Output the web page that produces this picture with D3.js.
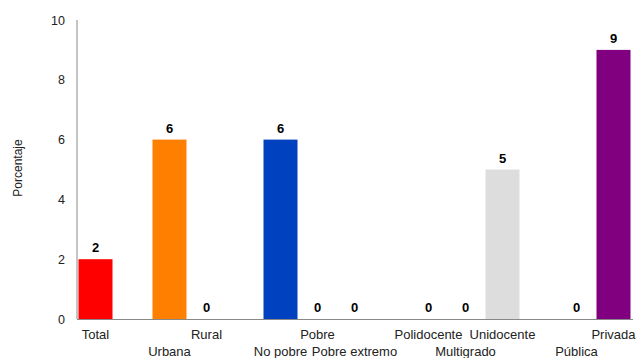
<!DOCTYPE html>
<html><head><meta charset="utf-8">
<script src="https://cdn.jsdelivr.net/npm/d3@7"></script>
<style>body{margin:0;background:#fff}svg{display:block}text{font-family:"Liberation Sans",Arial,sans-serif}</style>
</head><body>
<svg id="c" width="636" height="358"></svg>
<script>
// slots (15) with blank separators
const slots = ["Total","s1","Urbana","Rural","s4","No pobre","Pobre","Pobre extremo","s8","Polidocente","Multigrado","Unidocente","s12","Pública","Privada"];
const categories = ["Total","Urbana","Rural","No pobre","Pobre","Pobre extremo","Polidocente","Multigrado","Unidocente","Pública","Privada"];
const values = [2,6,0,6,0,0,0,0,5,0,9];
const colors = ["#FF0000","#FF8000","#FF8000","#0041BF","#0041BF","#0041BF","#DDDDDD","#DDDDDD","#DDDDDD","#800080","#800080"];
const yTicks = [0,2,4,6,8,10];
const yTitle = "Porcentaje";

const svg = d3.select("#c");
const x = d3.scaleBand().domain(slots).range([77,632]).paddingInner(0.08).paddingOuter(0.04);
const y = d3.scaleLinear().domain([0,10]).range([319,20]);

// axes lines
svg.append("line").attr("x1",77).attr("x2",77).attr("y1",y(10)).attr("y2",y(0)).attr("stroke","#888").attr("stroke-width",1);
svg.append("line").attr("x1",77).attr("x2",633).attr("y1",y(0)+0.5).attr("y2",y(0)+0.5).attr("stroke","#888").attr("stroke-width",1);

svg.append("g").selectAll("text").data(yTicks).join("text")
  .attr("x",65).attr("y",d=>y(d)+4.5).attr("text-anchor","end")
  .attr("font-size",12.5).attr("fill","#222").text(d=>d);

svg.append("text").attr("transform","translate(22,168) rotate(-90)")
  .attr("text-anchor","middle").attr("font-size",12).attr("fill","#222").text(yTitle);

const bw = 34;
const cx = c => x(c) + x.bandwidth()/2;
svg.append("g").selectAll("rect").data(categories).join("rect")
  .attr("x",(c)=>cx(c)-bw/2).attr("width",bw)
  .attr("y",(c,i)=>y(values[i])).attr("height",(c,i)=>y(0)-y(values[i]))
  .attr("fill",(c,i)=>colors[i]);

svg.append("g").selectAll("text").data(categories).join("text")
  .attr("x",c=>cx(c)).attr("y",(c,i)=>y(values[i])-7).attr("text-anchor","middle")
  .attr("font-size",13).attr("font-weight","bold").attr("fill","#000").text((c,i)=>values[i]);

svg.append("g").selectAll("text").data(categories).join("text")
  .attr("x",c=>cx(c)).attr("y",(c,i)=> i%2===0 ? 339 : 356).attr("text-anchor","middle")
  .attr("font-size",13).attr("fill","#222").text(c=>c);
</script>
</body></html>
